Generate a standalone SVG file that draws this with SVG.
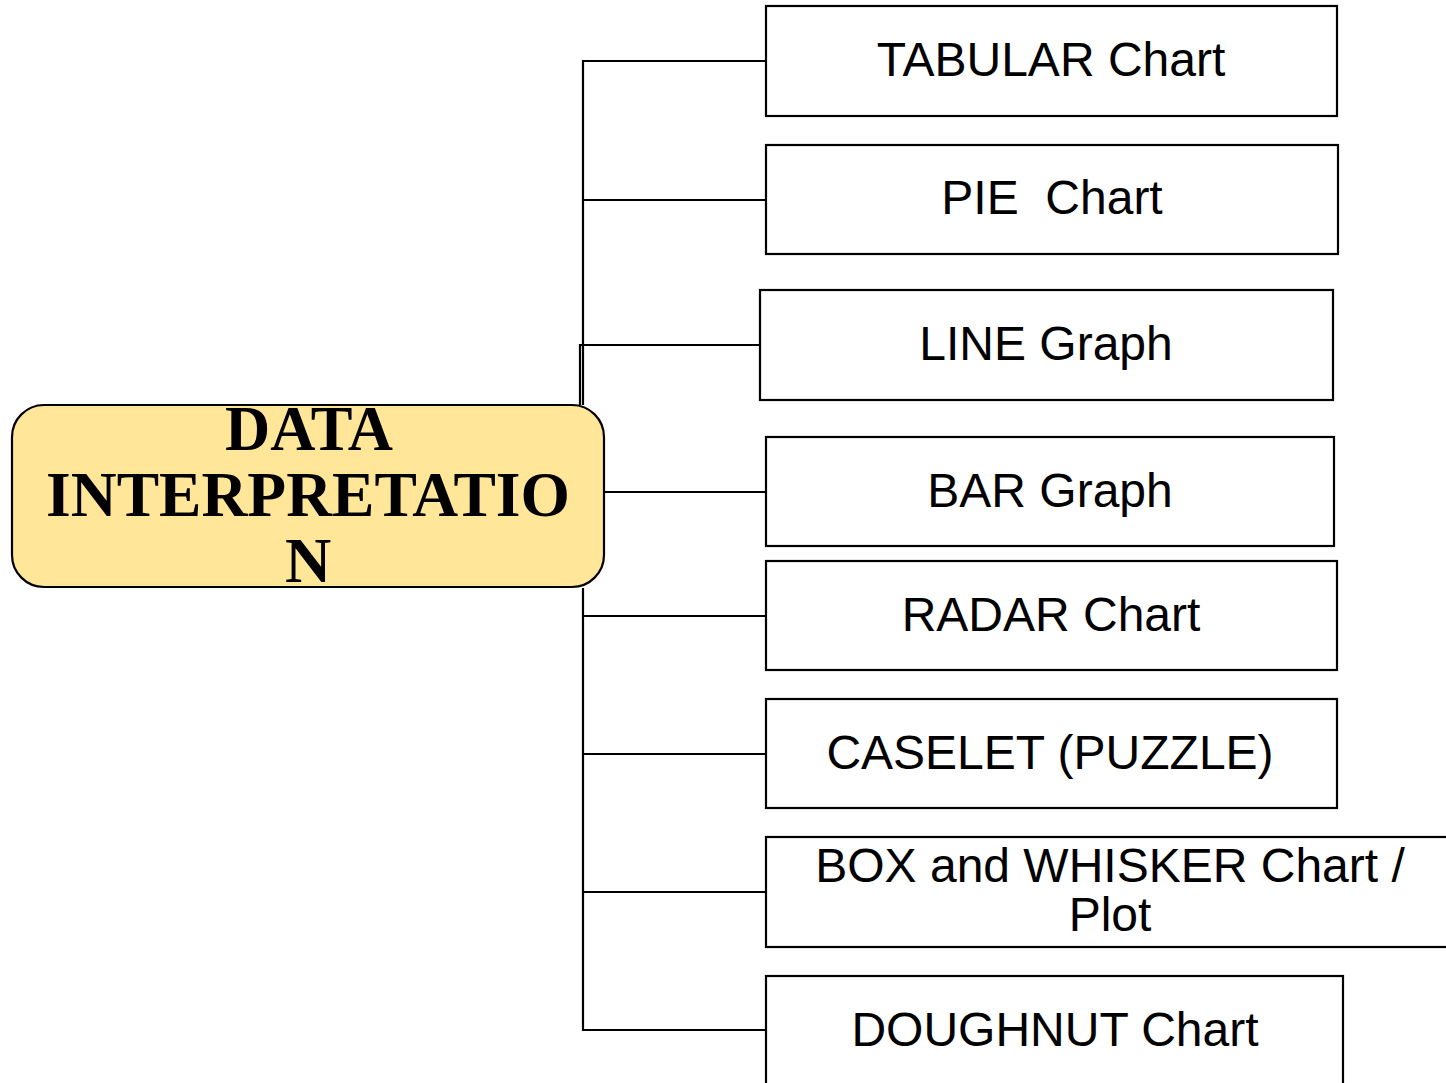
<svg xmlns="http://www.w3.org/2000/svg" width="1446" height="1083" viewBox="0 0 1446 1083">
<style>
.box{fill:#ffffff;stroke:#000;stroke-width:2.2}
.lbl{font-family:"Liberation Sans",Arial,sans-serif;font-size:48px;fill:#000;text-anchor:middle}
.conn{fill:none;stroke:#000;stroke-width:2.2}
.ctr{font-family:"Liberation Serif","Times New Roman",serif;font-weight:bold;font-size:64px;fill:#000;text-anchor:middle}
</style>
<rect width="1446" height="1083" fill="#fff"/>
<g id="connectors">
<polyline class="conn" points="766,61 583,61 583,405"/>
<line class="conn" x1="583" y1="200" x2="766" y2="200"/>
<polyline class="conn" points="760,345 580,345 580,405"/>
<line class="conn" x1="604" y1="492" x2="766" y2="492"/>
<polyline class="conn" points="583,588 583,1030 766,1030"/>
<line class="conn" x1="583" y1="616" x2="766" y2="616"/>
<line class="conn" x1="583" y1="754" x2="766" y2="754"/>
<line class="conn" x1="583" y1="892" x2="766" y2="892"/>
</g>
<g id="center">
<rect x="12" y="405" width="592" height="182" rx="32" ry="32" fill="#ffe699" stroke="#000" stroke-width="2.2"/>
<text class="ctr" x="309" y="450" textLength="168" lengthAdjust="spacingAndGlyphs">DATA</text>
<text class="ctr" x="308" y="516" textLength="524" lengthAdjust="spacingAndGlyphs">INTERPRETATIO</text>
<text class="ctr" x="308" y="582">N</text>
</g>
<g id="tabular"><rect class="box" x="766" y="6" width="571" height="110"/><text class="lbl" x="1051" y="76">TABULAR Chart</text></g>
<g id="pie"><rect class="box" x="766" y="145" width="572" height="109"/><text class="lbl" x="1052" y="214" xml:space="preserve">PIE  Chart</text></g>
<g id="line"><rect class="box" x="760" y="290" width="573" height="110"/><text class="lbl" x="1046" y="360">LINE Graph</text></g>
<g id="bar"><rect class="box" x="766" y="437" width="568" height="109"/><text class="lbl" x="1050" y="507">BAR Graph</text></g>
<g id="radar"><rect class="box" x="766" y="561" width="571" height="109"/><text class="lbl" x="1051" y="631">RADAR Chart</text></g>
<g id="caselet"><rect class="box" x="766" y="699" width="571" height="109"/><text class="lbl" x="1050" y="769">CASELET (PUZZLE)</text></g>
<g id="boxwhisker"><rect class="box" x="766" y="837" width="700" height="110"/><text class="lbl" x="1110" y="882">BOX and WHISKER Chart /</text><text class="lbl" x="1110" y="931">Plot</text></g>
<g id="doughnut"><rect class="box" x="766" y="976" width="577" height="130"/><text class="lbl" x="1055" y="1046">DOUGHNUT Chart</text></g>
</svg>
